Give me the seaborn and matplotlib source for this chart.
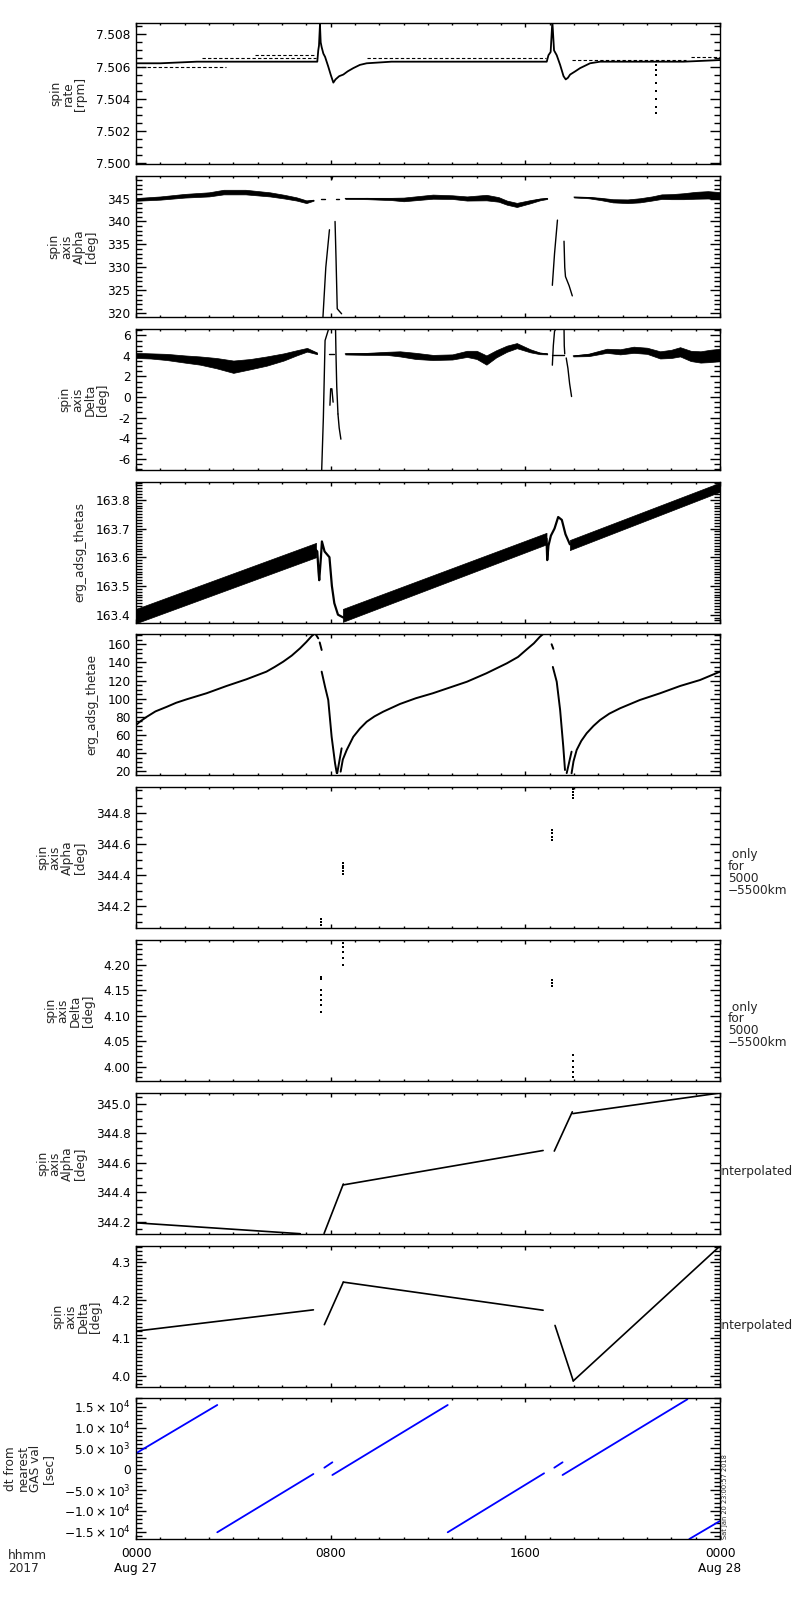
import numpy as np
import matplotlib
matplotlib.use('Agg')
import matplotlib.pyplot as plt
import seaborn as sns
from matplotlib.ticker import MultipleLocator, FormatStrFormatter, FixedLocator, FixedFormatter

sns.set_style('ticks')
plt.rcParams.update({'font.family': ['DejaVu Sans'], 'font.size': 8.7,
                     'axes.linewidth': 1.0, 'mathtext.default': 'regular'})

# ---------------- data (hours since 2017-08-27 00:00) ----------------
# spin rate [rpm]
rate_h = [0.0, 1.0, 2.5, 4.0, 5.5, 7.0, 7.45, 7.49, 7.52, 7.56, 7.59, 7.63, 7.7, 7.77, 7.9, 8.0,
          8.11, 8.2, 8.35, 8.52, 8.7, 8.93, 9.2, 9.48, 10.5, 12.0, 13.5, 15.0, 16.5, 16.88, 16.95,
          17.04, 17.11, 17.18, 17.29, 17.43, 17.57, 17.66, 17.75, 17.84, 18.05, 18.25, 18.66,
          19.07, 20.0, 21.0, 22.5, 24.0]
rate_v = [7.5062, 7.5062, 7.5063, 7.5063, 7.5063, 7.5063, 7.5063, 7.5070, 7.5073, 7.5086, 7.5075,
          7.5072, 7.5068, 7.5066, 7.5060, 7.5055, 7.5050, 7.5052, 7.5054, 7.5055, 7.5057, 7.5059,
          7.5061, 7.5062, 7.5063, 7.5063, 7.5063, 7.5063, 7.5063, 7.5063, 7.5067, 7.5069, 7.5088,
          7.5070, 7.5067, 7.5061, 7.5054, 7.5052, 7.5053, 7.5055, 7.5057, 7.5059, 7.5062, 7.5063,
          7.5063, 7.5063, 7.5063, 7.5064]
rate_row_start = [0.0, 2.7, 4.9, 9.5, 17.9, 22.8]
rate_row_end = [3.7, 7.4, 7.4, 16.85, 22.6, 24.0]
rate_row_val = [7.5060, 7.50655, 7.5067, 7.5065, 7.5064, 7.50658]
rate_dip_h = [21.35, 21.35, 21.35, 21.35, 21.35, 21.35, 21.35, 21.35]
rate_dip_v = [7.5061, 7.5058, 7.5055, 7.5050, 7.5045, 7.5040, 7.5035, 7.5031]

# spin axis Alpha [deg] (noisy band: centre and half width)
alpha_band_h = [[0, 1, 2, 3, 3.6, 4.5, 5.5, 6.1, 6.6, 7.0, 7.3],
                [8.6, 9.5, 10.5, 11.0, 12.2, 13.0, 13.6, 14.4, 14.9, 15.24, 15.65, 16.2, 16.6, 16.9],
                [18.0, 18.6, 19.1, 19.6, 20.2, 20.7, 21.2, 21.6, 22.0, 22.5, 23.0, 23.5, 24.0]]
alpha_band_mid = [[344.8, 345.1, 345.6, 345.9, 346.4, 346.4, 345.9, 345.4, 344.9, 344.3, 344.6],
                  [345.0, 345.0, 344.9, 344.8, 345.4, 345.3, 345.0, 345.2, 344.8, 344.1, 343.6, 344.3, 344.8, 345.0],
                  [345.3, 345.2, 344.9, 344.5, 344.4, 344.6, 345.0, 345.4, 345.4, 345.5, 345.7, 345.8, 345.6]]
alpha_band_half = [[0.3, 0.35, 0.4, 0.45, 0.5, 0.5, 0.45, 0.4, 0.35, 0.3, 0.08],
                   [0.1, 0.15, 0.25, 0.4, 0.45, 0.4, 0.45, 0.6, 0.5, 0.45, 0.45, 0.35, 0.2, 0.1],
                   [0.08, 0.15, 0.25, 0.35, 0.4, 0.45, 0.45, 0.5, 0.55, 0.65, 0.75, 0.8, 0.8]]
alpha_spike_h = [[7.67, 7.8, 7.95], [8.18, 8.22, 8.27, 8.35, 8.45],
                 [17.11, 17.2, 17.32], [17.59, 17.62, 17.65, 17.8, 17.93], [8.0, 8.05, 8.1]]
alpha_spike_v = [[318.0, 330.0, 338.2], [340.0, 332.0, 321.0, 320.5, 319.9],
                 [326.1, 333.0, 340.3], [335.7, 330.0, 328.0, 326.0, 323.8], [350.0, 349.2, 350.0]]

# spin axis Delta [deg]
delta_band_h = [[0, 0.6, 1.26, 2.0, 2.63, 3.3, 4.0, 4.7, 5.37, 6.07, 6.6, 7.03, 7.44],
                [8.6, 9.5, 10.3, 10.85, 11.5, 12.2, 13.0, 13.6, 14.0, 14.4, 14.8, 15.24, 15.65, 16.2, 16.6, 16.9],
                [17.97, 18.6, 19.35, 19.9, 20.45, 21.0, 21.54, 22.0, 22.36, 22.8, 23.2, 23.6, 24.0]]
delta_band_mid = [[4.05, 4.0, 3.9, 3.7, 3.55, 3.3, 2.95, 3.2, 3.5, 3.9, 4.3, 4.6, 4.25],
                  [4.2, 4.2, 4.25, 4.2, 4.0, 3.85, 3.9, 4.2, 4.1, 3.6, 4.2, 4.7, 5.0, 4.5, 4.25, 4.2],
                  [4.0, 4.1, 4.5, 4.4, 4.6, 4.5, 4.1, 4.2, 4.4, 4.0, 3.9, 4.0, 4.1]]
delta_band_half = [[0.25, 0.25, 0.3, 0.35, 0.4, 0.5, 0.6, 0.5, 0.45, 0.35, 0.25, 0.18, 0.08],
                   [0.06, 0.1, 0.15, 0.25, 0.3, 0.25, 0.25, 0.3, 0.4, 0.45, 0.35, 0.3, 0.25, 0.15, 0.08, 0.05],
                   [0.05, 0.12, 0.2, 0.25, 0.3, 0.3, 0.35, 0.4, 0.45, 0.5, 0.55, 0.6, 0.6]]
delta_spike_h = [[7.63, 7.7, 7.77, 7.9], [8.2, 8.22, 8.25, 8.3], [8.3, 8.35, 8.42],
                 [7.97, 8.0, 8.05, 8.1], [17.11, 17.15, 17.2, 17.27], [17.59, 17.6, 17.62],
                 [17.68, 17.75, 17.82, 17.9], [17.1, 17.6], [7.95, 8.15]]
delta_spike_v = [[-7.2, -2.0, 5.5, 6.5], [6.7, 4.0, 1.0, -1.65], [-1.65, -3.0, -4.1],
                 [-0.8, 0.8, 0.8, -0.5], [3.1, 5.0, 6.4, 6.7], [6.7, 5.0, 4.2],
                 [3.8, 2.8, 1.3, 0.05], [4.1, 4.1], [4.2, 4.2]]

# erg_adsg_thetas
thetas_h = [[0.0, 7.4], [8.5, 16.87], [17.83, 24.0]]
thetas_lo = [[163.37, 163.60], [163.375, 163.645], [163.625, 163.828]]
thetas_hi = [[163.42, 163.65], [163.42, 163.685], [163.66, 163.86]]
thetas_evt_h = [[7.4, 7.45, 7.5, 7.53, 7.6, 7.64, 7.75, 7.95, 8.05, 8.15, 8.3, 8.52],
                [16.87, 16.9, 16.95, 17.05, 17.2, 17.35, 17.5, 17.65, 17.83]]
thetas_evt_v = [[163.625, 163.62, 163.55, 163.52, 163.6, 163.655, 163.62, 163.6, 163.5, 163.44, 163.40, 163.39],
                [163.665, 163.59, 163.64, 163.675, 163.70, 163.74, 163.73, 163.68, 163.645]]

# erg_adsg_thetae
thetae_h = [[0, 0.2, 0.44, 0.8, 1.26, 1.65, 2.08, 2.9, 3.72, 4.54, 5.36, 5.7, 6.05, 6.4, 6.74,
             7.0, 7.22, 7.36, 7.49],
            [7.55, 7.63], [7.63, 7.77, 7.9, 8.04, 8.18, 8.25], [8.27, 8.45],
            [8.41, 8.5, 8.66, 8.93, 9.2, 9.48, 9.8, 10.16, 10.85, 11.5, 12.2, 13.6, 14.4, 15.24,
             15.7, 16.06, 16.35, 16.6, 16.9],
            [17.08, 17.15], [17.13, 17.29, 17.43, 17.56, 17.63], [17.7, 17.9],
            [17.9, 17.98, 18.11, 18.3, 18.52, 18.8, 19.07, 19.45, 19.89, 20.71, 21.54, 22.36,
             23.18, 24.0]]
thetae_v = [[71, 75.5, 80, 86, 91, 95.5, 99.3, 106, 114, 121.4, 129.8, 135, 140.8, 147.5, 155.5,
             162.5, 169, 172, 166.5],
            [162, 153.7], [129.8, 113, 98.6, 58, 28.8, 18], [18, 45.3],
            [19.6, 33, 43.5, 58, 67, 74.6, 80.5, 85.7, 94.2, 100.5, 106, 118.7, 128, 139,
             146, 154.4, 161, 168.3, 175],
            [160, 155], [135, 118.7, 87.5, 47, 21.4], [18, 41.6],
            [17.8, 31, 43.5, 53.5, 61.9, 70, 76.5, 83.5, 89.4, 98.6, 106, 114, 120.6, 129.8]]

# spin axis Alpha / Delta only for 5000-5500 km
alpha_sel_h = [7.6, 7.6, 7.6, 8.49, 8.49, 8.49, 8.49, 8.49, 17.08, 17.08, 17.08, 17.08,
               17.94, 17.94, 17.94, 17.94]
alpha_sel_v = [344.08, 344.10, 344.12, 344.41, 344.43, 344.45, 344.46, 344.48, 344.63, 344.65,
               344.67, 344.69, 344.90, 344.92, 344.94, 344.96]
delta_sel_h = [7.59, 7.59, 7.59, 7.59, 7.59, 7.59, 7.59, 8.49, 8.49, 8.49, 8.49, 8.49,
               17.08, 17.08, 17.08, 17.94, 17.94, 17.94, 17.94, 17.94]
delta_sel_v = [4.176, 4.171, 4.15, 4.14, 4.13, 4.12, 4.107, 4.242, 4.235, 4.225, 4.212, 4.199,
               4.17, 4.163, 4.157, 4.023, 4.012, 4.0, 3.99, 3.98]

# spin axis Alpha / Delta interpolated
alpha_int_h = [[0, 6.75], [7.73, 8.52], [8.52, 16.73], [17.19, 17.93], [17.95, 24]]
alpha_int_v = [[344.192, 344.118], [344.12, 344.456], [344.45, 344.684], [344.68, 344.947],
               [344.935, 345.075]]
delta_int_h = [[0, 7.29], [7.74, 8.52], [8.52, 16.73], [17.22, 17.97], [17.97, 24]]
delta_int_v = [[4.119, 4.175], [4.136, 4.248], [4.248, 4.174], [4.134, 3.988], [3.988, 4.343]]

# dt from nearest GAS val [sec]
dt_h = [[0, 3.34], [3.34, 7.29], [7.74, 8.07], [8.07, 12.81], [12.81, 16.77], [17.19, 17.53],
        [17.53, 22.66], [22.74, 24]]
dt_v = [[3840, 15430], [-15120, -1130], [384, 1680], [-1370, 15430], [-15120, -960],
        [384, 1680], [-1370, 16800], [-16730, -12400]]

x_ticks = [0, 8, 16, 24]
x_labels = ['0000\nAug 27', '0800', '1600', '0000\nAug 28']
dt_ticks = [-15000, -10000, -5000, 0, 5000, 10000, 15000]
dt_labels = [r'$-1.5\times10^{4}$', r'$-1.0\times10^{4}$', r'$-5.0\times10^{3}$', '0',
             r'$5.0\times10^{3}$', r'$1.0\times10^{4}$', r'$1.5\times10^{4}$']

ylabels = ['spin\nrate\n[rpm]', 'spin\naxis\nAlpha\n[deg]', 'spin\naxis\nDelta\n[deg]',
           'erg_adsg_thetas', 'erg_adsg_thetae', 'spin\naxis\nAlpha\n[deg]',
           'spin\naxis\nDelta\n[deg]', 'spin\naxis\nAlpha\n[deg]', 'spin\naxis\nDelta\n[deg]',
           'dt from\nnearest\nGAS val\n[sec]']
ylims = [(7.49995, 7.5087), (319.2, 349.9), (-7.1, 6.62), (163.371, 163.862), (15.9, 171.3),
         (344.06, 344.97), (3.972, 4.248), (344.116, 345.075), (3.972, 4.343), (-16730, 17110)]
ymajor = [0.002, 5, 2, 0.1, 20, 0.2, 0.05, 0.2, 0.1, 5000]
yminor = [0.0005, 1, 0.5, 0.01, 5, 0.05, 0.01, 0.05, 0.01, 1000]
yfmt = ['%.3f', '%d', '%d', '%.1f', '%d', '%.1f', '%.2f', '%.1f', '%.1f', None]

# ---------------- figure ----------------
W, H = 800, 1600
fig = plt.figure(figsize=(8, 16), dpi=100)
tops = [23, 176, 329, 482, 634, 787, 940, 1093, 1246, 1398]
ph = 141
axes = []
for i, t in enumerate(tops):
    ax = fig.add_axes([136 / W, 1 - (t + ph) / H, 584 / W, ph / H])
    axes.append(ax)


def line(ax, h, v, lw=1.0, color='k', ls='-'):
    sns.lineplot(x=h, y=v, ax=ax, color=color, lw=lw, linestyle=ls,
                 estimator=None, sort=False, legend=False)


def band(ax, h, mid, half):
    mid = np.asarray(mid)
    half = np.asarray(half)
    ax.fill_between(h, mid - half, mid + half, color='k', lw=0.5)
    line(ax, h, mid, lw=0.8)


# panel 1
ax = axes[0]
line(ax, rate_h, rate_v, lw=1.3)
for s, e, v in zip(rate_row_start, rate_row_end, rate_row_val):
    line(ax, [s, e], [v, v], lw=0.8, ls=(0, (3, 2)))
sns.scatterplot(x=rate_dip_h, y=rate_dip_v, ax=ax, color='k', s=2, marker='s', linewidth=0)

# panel 2
ax = axes[1]
for h, m, w in zip(alpha_band_h, alpha_band_mid, alpha_band_half):
    band(ax, h, m, w)
for h, v in zip(alpha_spike_h, alpha_spike_v):
    line(ax, h, v, lw=1.0)
line(ax, [7.6, 7.75], [344.9, 344.9], lw=1.0)
line(ax, [8.2, 8.35], [345.0, 345.0], lw=1.0)

# panel 3
ax = axes[2]
for h, m, w in zip(delta_band_h, delta_band_mid, delta_band_half):
    band(ax, h, m, w)
for h, v in zip(delta_spike_h, delta_spike_v):
    line(ax, h, v, lw=1.0)

# panel 4
ax = axes[3]
for h, lo, hi in zip(thetas_h, thetas_lo, thetas_hi):
    ax.fill_between(h, lo, hi, color='k', lw=0.5)
for h, v in zip(thetas_evt_h, thetas_evt_v):
    line(ax, h, v, lw=1.6)

# panel 5
ax = axes[4]
for h, v in zip(thetae_h, thetae_v):
    line(ax, h, v, lw=1.4)

# panels 6, 7
sns.scatterplot(x=alpha_sel_h, y=alpha_sel_v, ax=axes[5], color='k', s=2, marker='s', linewidth=0)
sns.scatterplot(x=delta_sel_h, y=delta_sel_v, ax=axes[6], color='k', s=2, marker='s', linewidth=0)

# panels 8, 9
for h, v in zip(alpha_int_h, alpha_int_v):
    line(axes[7], h, v, lw=1.2)
for h, v in zip(delta_int_h, delta_int_v):
    line(axes[8], h, v, lw=1.2)

# panel 10
for h, v in zip(dt_h, dt_v):
    line(axes[9], h, v, lw=1.3, color='#0000ff')

# ---------------- axes styling ----------------
for i, ax in enumerate(axes):
    ax.set_xlim(0, 24)
    ax.set_ylim(*ylims[i])
    ax.xaxis.set_major_locator(FixedLocator(x_ticks))
    ax.xaxis.set_minor_locator(MultipleLocator(1))
    ax.yaxis.set_minor_locator(MultipleLocator(yminor[i]))
    if yfmt[i] is None:
        ax.yaxis.set_major_locator(FixedLocator(dt_ticks))
        ax.yaxis.set_major_formatter(FixedFormatter(dt_labels))
    else:
        ax.yaxis.set_major_locator(MultipleLocator(ymajor[i]))
        ax.yaxis.set_major_formatter(FormatStrFormatter(yfmt[i]))
    ax.tick_params(axis='both', which='both', direction='in', top=True, right=True,
                   color='k', width=1.0, labelsize=8.7, labelcolor='k')
    ax.tick_params(axis='y', which='major', length=7.2, pad=4)
    ax.tick_params(axis='y', which='minor', length=4.2)
    ax.tick_params(axis='x', which='major', length=3.0, pad=6)
    ax.tick_params(axis='x', which='minor', length=1.7)
    for sp in ax.spines.values():
        sp.set_color('k')
        sp.set_linewidth(1.0)
    ax.set_xlabel('')
    ax.set_ylabel(ylabels[i], fontsize=8.7, linespacing=0.95, labelpad=6.5)
    if i < 9:
        ax.tick_params(axis='x', labelbottom=False)
    else:
        ax.set_xticklabels(x_labels)

# right-side notes
for t in (787, 940):
    fig.text(728 / W, 1 - (t + 85) / H, ' only\nfor\n5000\n\u22125500km', fontsize=8.7,
             ha='left', va='center', linespacing=0.9)
for t in (1093, 1246):
    fig.text(719 / W, 1 - (t + 79) / H, 'interpolated', fontsize=8.7, ha='left', va='center')
fig.text(8 / W, 1 - 1549 / H, 'hhmm\n2017', fontsize=8.7, ha='left', va='top', linespacing=0.95)
fig.text(722 / W, 1 - 1539 / H, 'Sat Jan 20 23:00:57 2018', fontsize=4.8, rotation=90,
         ha='left', va='bottom')

fig.savefig('out.png', dpi=100, facecolor='white')
